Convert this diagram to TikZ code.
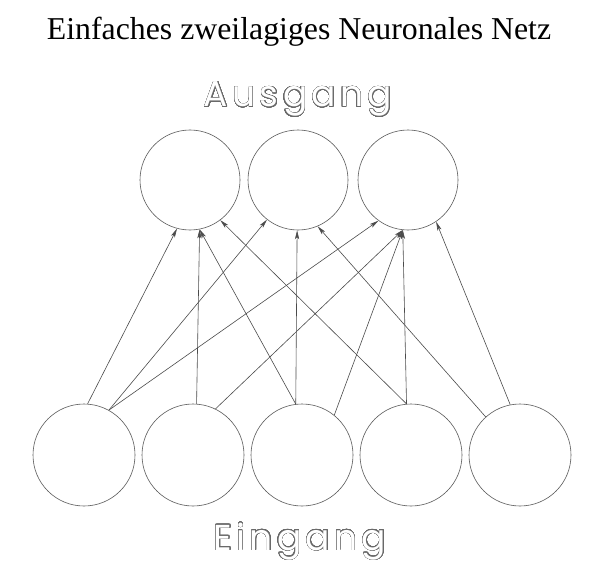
\documentclass[tikz,border=0pt]{standalone}
\usepackage{fontspec}
\setmainfont{Liberation Serif}
\newfontfamily\roundfont[LetterSpace=12]{Poppins}
\usepackage{contour}
\contourlength{0.38pt}
\contournumber{32}
\usetikzlibrary{arrows.meta}
\definecolor{linegray}{RGB}{75,75,75}
\definecolor{circlegray}{RGB}{90,90,90}
\definecolor{outlinegray}{RGB}{105,105,105}
\tikzset{
  neuronin/.style={circle, draw=circlegray, line width=0.6pt, minimum size=102pt, inner sep=0pt},
  neuronout/.style={circle, draw=circlegray, line width=0.6pt, minimum size=100pt, inner sep=0pt},
  conn/.style={draw=linegray, line width=0.6pt, -{Stealth[length=9pt,width=4.2pt,inset=2.2pt]}},
  outlinetext/.style={anchor=base, inner sep=0pt, font=\roundfont\fontsize{36}{40}\selectfont}
}
\newcommand{\hollow}[1]{\contour{outlinegray}{\color{white}#1}}
\begin{document}
\begin{tikzpicture}[x=1pt,y=-1pt]
\useasboundingbox[fill=white] (0,0) rectangle (609,564);
\node[anchor=base, inner sep=0pt, font=\fontsize{31.8}{36}\selectfont] (title) at (299,40) {Einfaches zweilagiges Neuronales Netz};
\node[outlinetext] (ausgang) at (298,107) {\hollow{Ausgang}};
\node[outlinetext] (eingang) at (300,550) {\hollow{Eingang}};
% output layer
\node[neuronout] (o1) at (190,180) {};
\node[neuronout] (o2) at (298,180) {};
\node[neuronout] (o3) at (408,180) {};
% input layer
\node[neuronin] (i1) at (84,455) {};
\node[neuronin] (i2) at (193,455) {};
\node[neuronin] (i3) at (302,455) {};
\node[neuronin] (i4) at (411,455) {};
\node[neuronin] (i5) at (520,455) {};
% connections
\draw[conn] (i1.86.6) -- (o1.255);
\draw[conn] (i1.61.9) -- (o2.232);
\draw[conn] (i1.61.9) -- (o3.234);
\draw[conn] (i2.86.6) -- (o1.281);
\draw[conn] (i2.64.9) -- (o3.264);
\draw[conn] (i3.97) -- (o1.281);
\draw[conn] (i3.97) -- (o2.269);
\draw[conn] (i3.51.7) -- (o3.264);
\draw[conn] (i4.95.7) -- (o1.307);
\draw[conn] (i4.95.7) -- (o3.264);
\draw[conn] (i5.132.6) -- (o2.293);
\draw[conn] (i5.101.5) -- (o3.304);
\end{tikzpicture}
\end{document}
